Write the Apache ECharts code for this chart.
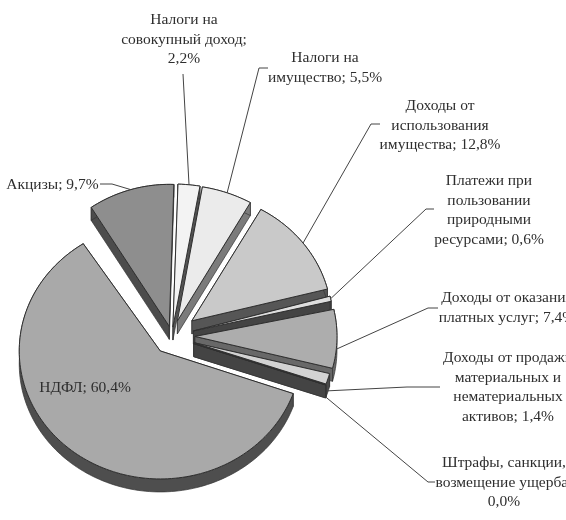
<!DOCTYPE html>
<html>
<head>
<meta charset="utf-8">
<title>Доходы</title>
<script src="https://cdn.jsdelivr.net/npm/echarts@6/dist/echarts.min.js"></script>
<style>
    html, body { margin: 0; padding: 0; background: #fff; }
    #chart { width: 566px; height: 520px; }
    /* исходник — размытый скан */
    #chart canvas { filter: blur(0.35px); }
</style>
</head>
<body>
<div id="chart"></div>
<script>
// значения, % (порядок по часовой стрелке, НДФЛ замыкает круг)
var categories = ['Акцизы', 'Налоги на совокупный доход', 'Налоги на имущество',
    'Доходы от использования имущества', 'Платежи при пользовании природными ресурсами',
    'Доходы от оказания платных услуг', 'Доходы от продажи материальных и нематериальных активов',
    'Штрафы, санкции, возмещение ущерба', 'НДФЛ'];
var shares = [9.7, 2.2, 5.5, 12.8, 0.6, 7.4, 1.4, 0.0, 60.4];
var labelTexts = ['Акцизы; 9,7%', 'Налоги на\nсовокупный доход;\n2,2%', 'Налоги на\nимущество; 5,5%',
    'Доходы от\nиспользования\nимущества; 12,8%', 'Платежи при\nпользовании\nприродными\nресурсами; 0,6%',
    'Доходы от оказания\nплатных услуг; 7,4%', 'Доходы от продажи\nматериальных и\nнематериальных\nактивов; 1,4%',
    'Штрафы, санкции,\nвозмещение ущерба;\n0,0%', 'НДФЛ; 60,4%'];

// оформление по секторам
var topColors = ['#8e8e8e', '#f3f3f3', '#ebebeb', '#c9c9c9', '#dedede', '#adadad', '#d2d2d2', '#999', '#a9a9a9'];
var wallColors = ['#4c4c4c', '#555', '#7b7b7b', '#565656', '#444', '#686868', '#4a4a4a', '#444', '#4e4e4e'];
var explode = [10, 9, 16, 25, 22, 23, 23, 23, 19];
var radiusX = [143, 160, 148, 140, 141, 142, 140, 140, 141];
var radiusY = [142, 143, 136, 128, 140, 128, 124, 124, 128];
var tipDrop = [0, 0, 0, 0, 0, 10, 12, 12, 0];

var labelPos = [[52.5, 185], [184, 20], [325, 58], [440, 106], [489, 181], [507, 298], [508, 358], [504, 463], [85, 388]];
var elbows = [[[100, 184], [112, 184]], [[183, 74]], [[268, 68], [259, 68]], [[380, 124], [371, 124]],
    [[434, 209], [426, 209]], [[438, 308], [428, 308]], [[440, 387], [407, 387]], [[435, 482], [428, 482]], null];

var centerX = 172, centerY = 336, depth = 13, startAngle = 326.9, lineH = 19.7;
var total = shares.reduce(function(a, b) { return a + b; }, 0);

function sliceGeo(i) {
    var before = 0;
    for (var k = 0; k < i; k++) before += shares[k];
    var a0 = startAngle + before / total * 360;
    var a1 = a0 + shares[i] / total * 360;
    var mid = (a0 + a1) / 2 * Math.PI / 180;
    return {
        a0: a0, a1: a1, mid: mid,
        x: centerX + explode[i] * Math.sin(mid),
        y: centerY - explode[i] * Math.cos(mid)
    };
}

function arcPoint(g, i, rad) {
    return [g.x + radiusX[i] * Math.sin(rad), g.y - radiusY[i] * Math.cos(rad)];
}

function drop(p) {
    return [p[0], p[1] + depth];
}

function renderSlice(params, api) {
    var i = api.value(0);
    var g = sliceGeo(i);
    var apex = [g.x, g.y];
    var arc = [];
    var n = Math.max(2, Math.ceil((g.a1 - g.a0) / 1.5));
    for (var k = 0; k <= n; k++) {
        arc.push(arcPoint(g, i, (g.a0 + (g.a1 - g.a0) * k / n) * Math.PI / 180));
    }
    var wallStyle = { fill: wallColors[i], stroke: '#333', lineWidth: 0.7 };
    var first = arc[0], last = arc[arc.length - 1];
    // боковые грани: два среза и внешняя дуга
    var faces = [
        [apex, first, drop(first), drop(apex)],
        [apex, last, drop(last), drop(apex)],
        arc.concat(arc.slice().reverse().map(drop))
    ];
    var children = faces.map(function(pts) {
        return { type: 'polygon', shape: { points: pts }, style: wallStyle };
    });
    children.push({
        type: 'polygon',
        shape: { points: [apex].concat(arc) },
        style: { fill: topColors[i], stroke: '#2f2f2f', lineWidth: 1 }
    });
    return { type: 'group', children: children };
}

// подписи и выноски
var graphics = [];
labelTexts.forEach(function(txt, i) {
    graphics.push({
        type: 'text', z: 20, x: labelPos[i][0], y: labelPos[i][1] - lineH / 2,
        style: {
            text: txt, textAlign: 'center', textVerticalAlign: 'top',
            font: '15.5px "Liberation Serif"', lineHeight: lineH, fill: '#2e2e2e'
        }
    });
    if (!elbows[i]) return;
    var g = sliceGeo(i);
    var tip = arcPoint(g, i, g.mid);
    tip[1] += tipDrop[i];
    graphics.push({
        type: 'polyline', z: 10,
        shape: { points: elbows[i].concat([tip]) },
        style: { stroke: '#444', lineWidth: 1, fill: null }
    });
});

var chart = echarts.init(document.getElementById('chart'));
var option = {
    animation: false,
    backgroundColor: '#fff',
    graphic: graphics,
    series: [{
        type: 'custom',
        coordinateSystem: 'none',
        renderItem: renderSlice,
        data: shares.map(function(v, i) { return [i, v]; })
    }]
};
chart.setOption(option);
</script>
</body>
</html>
